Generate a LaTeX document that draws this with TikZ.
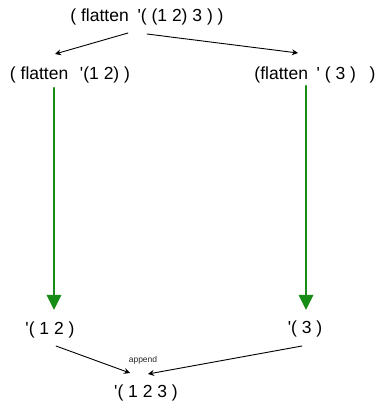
\documentclass[tikz,border=0pt]{standalone}
\usepackage{fontspec}
\setmainfont{Liberation Sans}
\usetikzlibrary{arrows.meta, calc}

\definecolor{stepgreen}{RGB}{22,140,22}
\newcommand{\qt}{\textquotesingle}

\begin{document}
\begin{tikzpicture}[x=1pt, y=1pt, line cap=round, line join=round,
    term/.style={inner sep=0pt, font=\fontsize{17.5}{20}\selectfont},
    call/.style={-{Stealth[length=6pt, width=6pt]}, line width=0.9pt},
    reduce/.style={-{Triangle[length=15pt, width=14pt]}, line width=2.6pt, stepgreen}]

    % Marco
    \useasboundingbox (0,0) rectangle (386,402);

    % Expresiones
    \node[term] (top) at (147,385) {( flatten\enspace\qt( (1 2) 3 ) )};
    \node[term] (left) at (70,327) {( flatten\enspace\,\qt(1 2) )};
    \node[term] (right) at (315,327) {(flatten\enspace\qt\ ( 3 )\enspace\ )};

    % Resultados
    \node[term] (lres) at (50,72) {\qt( 1 2 )};
    \node[term] (rres) at (305,73) {\qt( 3 )};
    \node[term] (res) at (146,9) {\qt( 1 2 3 )};
    \node[inner sep=0pt, font=\fontsize{8.5}{10}\selectfont, gray!30!black] (app) at (143,42) {append};

    % Llamadas recursivas
    \draw[call] ($(top)+(-19,-16)$) -- ($(left)+(-15,21)$);
    \draw[call] ($(top)+(0,-17)$) -- ($(right)+(-17,22)$);

    % Evaluación
    \draw[reduce] ($(left)+(-16,-13)$) -- ($(lres)+(4,20)$);
    \draw[reduce] ($(right)+(-9,-11)$) -- ($(rres)+(1,19)$);

    % Append
    \draw[call] ($(lres)+(6,-16)$) -- ($(res)+(-16,20)$);
    \draw[call] ($(rres)+(-3,-17)$) -- ($(res)+(2,19)$);

\end{tikzpicture}
\end{document}
